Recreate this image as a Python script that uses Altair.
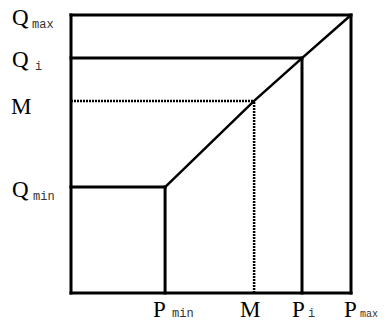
import altair as alt
import pandas as pd

# Values (axis units 0..100)
p_names = ["min", "M", "i", "max"]
p_values = [33.6, 65.4, 82.5, 100.0]
q_names = ["min", "M", "i", "max"]
q_values = [38.1, 69.1, 84.5, 100.0]

# text labels
p_main = ["P", "M", "P", "P"]
p_sub = ["min", "", "i", "max"]
q_main = ["Q", "M", "Q", "Q"]
q_sub = ["min", "", "i", "max"]

W, H = 280, 278
xs = alt.Scale(domain=[0, 100], nice=False, zero=False)
ys = alt.Scale(domain=[0, 100], nice=False, zero=False)

lo, hi = 0.0, 100.0
solid_rows = [
    (lo, lo, hi, lo), (lo, hi, hi, hi), (lo, lo, lo, hi), (hi, lo, hi, hi),
]
for k in (0, 2):
    p, q = p_values[k], q_values[k]
    solid_rows.append((lo, q, p, q))
    solid_rows.append((p, lo, p, q))
solid = pd.DataFrame(solid_rows, columns=["x", "y", "x2", "y2"])

pm, qm = p_values[1], q_values[1]
dotted = pd.DataFrame([(lo, qm, pm, qm), (pm, lo, pm, qm)], columns=["x", "y", "x2", "y2"])

diag = pd.DataFrame({"x": p_values, "y": q_values, "o": range(4)})

def seg_enc(ch):
    return ch.encode(
        x=alt.X("x:Q", scale=xs, axis=None),
        y=alt.Y("y:Q", scale=ys, axis=None),
        x2="x2:Q",
        y2="y2:Q",
    )

solid_layer = seg_enc(alt.Chart(solid).mark_rule(color="black", strokeWidth=3, strokeCap="square"))
dotted_layer = seg_enc(alt.Chart(dotted).mark_rule(color="black", strokeWidth=2.5, strokeDash=[2, 1]))
diag_layer = alt.Chart(diag).mark_line(color="black", strokeWidth=2.5).encode(
    x=alt.X("x:Q", scale=xs, axis=None),
    y=alt.Y("y:Q", scale=ys, axis=None),
    order="o:Q",
)

MAIN_FONT = "Liberation Serif"
SUB_FONT = "Liberation Mono"

layers = [solid_layer, dotted_layer, diag_layer]

# left labels
left_main_dx = [-59, -60, -59, -59]
left_main_dy = [10, 13, 9, 10]
left_sub_dx = [-38, 0, -36, -39]
left_sub_dy = [13, 0, 12, 13]
for k in range(4):
    row = pd.DataFrame({"v": [q_values[k]], "t": [q_main[k]], "s": [q_sub[k]]})
    layers.append(
        alt.Chart(row).mark_text(
            align="left", baseline="alphabetic", font=MAIN_FONT, fontSize=23,
            color="black", dx=left_main_dx[k], dy=left_main_dy[k],
        ).encode(x=alt.datum(0, scale=xs), y=alt.Y("v:Q", scale=ys), text="t:N")
    )
    if q_sub[k]:
        layers.append(
            alt.Chart(row).mark_text(
                align="left", baseline="alphabetic", font=SUB_FONT, fontSize=12,
                color="#333333", dx=left_sub_dx[k], dy=left_sub_dy[k],
            ).encode(x=alt.datum(0, scale=xs), y=alt.Y("v:Q", scale=ys), text="s:N")
        )

# bottom labels
bot_main_dx = [-12, -14, -10, -7]
bot_sub_dx = [7, 0, 6, 9]
bot_sub_size = [12, 12, 12, 10]
for k in range(4):
    row = pd.DataFrame({"v": [p_values[k]], "t": [p_main[k]], "s": [p_sub[k]]})
    layers.append(
        alt.Chart(row).mark_text(
            align="left", baseline="alphabetic", font=MAIN_FONT, fontSize=23,
            color="black", dx=bot_main_dx[k], dy=24,
        ).encode(x=alt.X("v:Q", scale=xs), y=alt.datum(0, scale=ys), text="t:N")
    )
    if p_sub[k]:
        layers.append(
            alt.Chart(row).mark_text(
                align="left", baseline="alphabetic", font=SUB_FONT, fontSize=bot_sub_size[k],
                color="#333333", dx=bot_sub_dx[k], dy=24,
            ).encode(x=alt.X("v:Q", scale=xs), y=alt.datum(0, scale=ys), text="s:N")
        )

chart = alt.layer(*layers).properties(
    width=W, height=H,
    padding={"left": 63, "top": 7, "right": 28, "bottom": 25},
    autosize=alt.AutoSizeParams(type="none"),
).configure_view(stroke=None)

chart.save("out.html", embed_options={"renderer": "svg", "actions": False})
